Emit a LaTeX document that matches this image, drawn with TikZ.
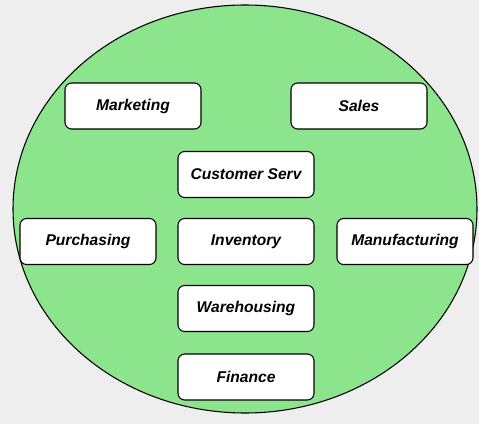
\documentclass[tikz,border=0pt]{standalone}
\usepackage{fontspec}
\setmainfont{Liberation Sans}
\usetikzlibrary{shapes.geometric}
\definecolor{bggray}{RGB}{238,238,238}
\definecolor{orggreen}{RGB}{140,228,140}
\begin{document}
\begin{tikzpicture}[x=0.75pt, y=-0.75pt,
    dept/.style={draw, rounded corners=5pt, fill=white, line width=0.8pt,
        minimum width=136*0.75pt, minimum height=46*0.75pt, inner sep=0pt,
        font=\fontsize{11.7pt}{13pt}\selectfont\bfseries\itshape}]

        % === Background ===
        \fill[bggray] (0, 0) rectangle (479, 424);
        \useasboundingbox (0, 0) rectangle (479, 424);

        % Company (ellipse)
        \node[ellipse, draw, fill=orggreen, line width=0.8pt, inner sep=0pt,
              minimum width=464*0.75pt, minimum height=408*0.75pt] (Org) at (245, 209) {};

        % Top row
        \node[dept] (Mkt) at (133, 106) {Marketing};
        \node[dept] (Sales) at (359, 106) {Sales};

        % Middle column
        \node[dept] (CustServ) at (246, 174.5) {Customer Serv};
        \node[dept] (Inv) at (246, 241.5) {Inventory};
        \node[dept] (Whs) at (246, 308.5) {Warehousing};
        \node[dept] (Fin) at (246, 377) {Finance};

        % Left and right
        \node[dept] (Purch) at (88, 241.5) {Purchasing};
        \node[dept] (Manuf) at (405, 241.5) {Manufacturing};

\end{tikzpicture}
\end{document}
